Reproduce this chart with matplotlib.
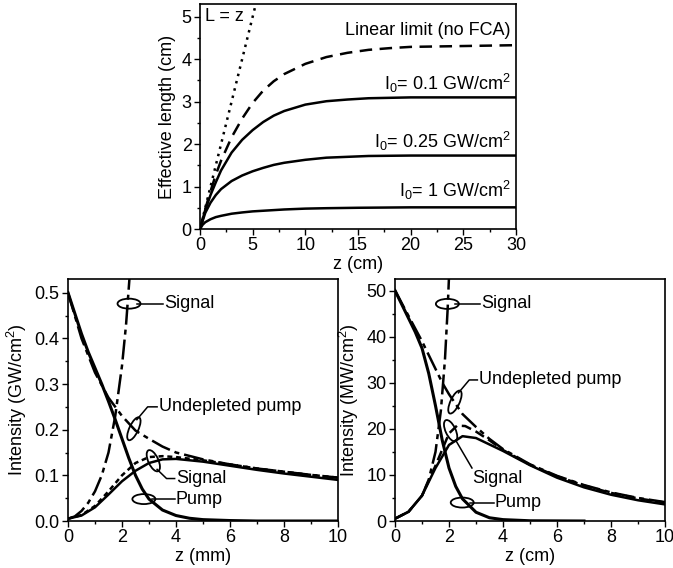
import matplotlib
matplotlib.use("Agg")
import matplotlib.pyplot as plt
from matplotlib.patches import Ellipse
from matplotlib.transforms import Affine2D, ScaledTranslation
from matplotlib.ticker import MultipleLocator, FormatStrFormatter

plt.rcParams['font.family'] = ['Liberation Sans', 'DejaVu Sans']
plt.rcParams['mathtext.default'] = 'regular'
plt.rcParams['font.size'] = 13

# ---------------- Top panel data (z in cm, effective length in cm) ----------------
lz_z = [0, 5.3]
lz_L = [0, 5.3]

lin_z = [0, 0.5, 1, 1.5, 2, 3, 4, 5, 6, 7, 8, 10, 12, 14, 16, 18, 20, 25, 30]
lin_L = [0, 0.47, 0.89, 1.28, 1.61, 2.16, 2.60, 2.97, 3.26, 3.48, 3.65, 3.89, 4.05, 4.15, 4.22, 4.26, 4.29, 4.31, 4.33]

i01_z = [0, 0.5, 1, 1.5, 2, 3, 4, 5, 6, 7, 8, 10, 12, 14, 16, 18, 20, 25, 30]
i01_L = [0, 0.45, 0.8, 1.1, 1.38, 1.8, 2.1, 2.33, 2.52, 2.67, 2.78, 2.93, 3.01, 3.05, 3.08, 3.09, 3.1, 3.1, 3.1]

i025_z = [0, 0.5, 1, 1.5, 2, 3, 4, 5, 6, 7, 8, 10, 12, 14, 16, 20, 30]
i025_L = [0, 0.38, 0.62, 0.8, 0.94, 1.13, 1.26, 1.36, 1.44, 1.51, 1.56, 1.63, 1.68, 1.70, 1.72, 1.73, 1.73]

i1_z = [0, 0.25, 0.5, 1, 1.5, 2, 3, 4, 5, 6, 8, 10, 12, 15, 20, 30]
i1_L = [0, 0.1, 0.16, 0.23, 0.28, 0.31, 0.36, 0.39, 0.415, 0.43, 0.46, 0.48, 0.49, 0.5, 0.51, 0.51]

top_labels = ["L = z", "Linear limit (no FCA)", "I$_0$= 0.1 GW/cm$^2$",
              "I$_0$= 0.25 GW/cm$^2$", "I$_0$= 1 GW/cm$^2$"]

# ---------------- Bottom-left data (z in mm, intensity in GW/cm^2) ----------------
bl_pump_z = [0, 0.25, 0.5, 0.75, 1, 1.25, 1.5, 1.75, 2, 2.25, 2.5, 2.75, 3, 3.5, 4, 4.5, 5, 6, 7, 10]
bl_pump_I = [0.5, 0.455, 0.41, 0.37, 0.335, 0.3, 0.262, 0.222, 0.18, 0.138, 0.1, 0.07, 0.048, 0.024, 0.012, 0.006, 0.003, 0.001, 0, 0]

bl_undep_z = [0, 0.5, 1, 1.5, 2, 2.5, 3, 3.5, 4, 5, 6, 7, 8, 9, 10]
bl_undep_I = [0.5, 0.4, 0.325, 0.27, 0.23, 0.198, 0.18, 0.163, 0.15, 0.135, 0.124, 0.115, 0.108, 0.101, 0.095]

bl_sigund_z = [0, 0.25, 0.5, 0.75, 1, 1.25, 1.5, 1.75, 2, 2.15, 2.3]
bl_sigund_I = [0.005, 0.01, 0.022, 0.04, 0.065, 0.1, 0.15, 0.23, 0.34, 0.43, 0.55]

bl_sig2_z = [0, 0.5, 1, 1.5, 2, 2.5, 3, 3.5, 4, 5, 6, 7, 8, 9, 10]
bl_sig2_I = [0.005, 0.013, 0.033, 0.065, 0.1, 0.127, 0.14, 0.142, 0.14, 0.133, 0.124, 0.115, 0.108, 0.101, 0.095]

bl_sig_z = [0, 0.5, 1, 1.5, 2, 2.5, 3, 3.5, 4, 5, 6, 7, 8, 9, 10]
bl_sig_I = [0.005, 0.012, 0.03, 0.058, 0.087, 0.11, 0.127, 0.135, 0.136, 0.13, 0.121, 0.112, 0.104, 0.097, 0.09]

# ---------------- Bottom-right data (z in cm, intensity in MW/cm^2) ----------------
br_pump_z = [0, 0.25, 0.5, 0.75, 1, 1.25, 1.5, 1.75, 2, 2.25, 2.5, 3, 3.5, 4, 5, 7]
br_pump_I = [50, 47, 44, 41, 37.5, 32, 25, 17.5, 11.5, 7.5, 4.8, 1.9, 0.7, 0.3, 0.05, 0]

br_undep_z = [0, 0.5, 1, 1.5, 1.75, 2, 2.5, 3, 3.5, 4, 5, 6, 7, 8, 9, 10]
br_undep_I = [50, 44.5, 39, 33, 30, 27.5, 23.2, 20.4, 17.8, 15.6, 12.3, 9.8, 7.8, 6.2, 5.0, 4.1]

br_sigund_z = [0, 0.5, 1, 1.25, 1.5, 1.7, 1.85, 1.95, 2.0]
br_sigund_I = [0.5, 2, 5.5, 9, 15, 24, 35, 46, 53]

br_sig2_z = [0, 0.5, 1, 1.5, 2, 2.3, 2.6, 3, 3.5, 4, 5, 6, 7, 8, 9, 10]
br_sig2_I = [0.5, 2, 5.5, 12, 19, 20.7, 20.6, 19.4, 17.5, 15.4, 12.2, 9.7, 7.7, 6.1, 4.9, 4.0]

br_sig_z = [0, 0.5, 1, 1.5, 2, 2.5, 3, 4, 5, 6, 7, 8, 9, 10]
br_sig_I = [0.5, 2, 5.5, 11.5, 16.5, 18.4, 18.0, 15.2, 12.1, 9.4, 7.3, 5.7, 4.5, 3.6]

W, H = 673, 568
fig = plt.figure(figsize=(W / 100, H / 100), dpi=100)

def add_axes(l, r, t, b):
    return fig.add_axes([l / W, 1 - b / H, (r - l) / W, (b - t) / H])

ax_top = add_axes(200, 516, 4, 229)
ax_bl = add_axes(68, 338, 279, 521)
ax_br = add_axes(395, 665, 279, 521)

LW = 1.8
ax_top.plot(lz_z, lz_L, color='black', lw=LW, linestyle=(0, (1, 2)))
ax_top.plot(lin_z, lin_L, color='black', lw=LW, linestyle=(0, (5, 3)))
ax_top.plot(i01_z, i01_L, color='black', lw=LW)
ax_top.plot(i025_z, i025_L, color='black', lw=LW)
ax_top.plot(i1_z, i1_L, color='black', lw=LW)
ax_top.set_xlim(0, 30)
ax_top.set_ylim(0, 5.3)
ax_top.xaxis.set_major_locator(MultipleLocator(5))
ax_top.xaxis.set_minor_locator(MultipleLocator(2.5))
ax_top.yaxis.set_major_locator(MultipleLocator(1))
ax_top.yaxis.set_minor_locator(MultipleLocator(0.5))
ax_top.set_xlabel("z (cm)", labelpad=1)
ax_top.set_ylabel("Effective length (cm)", labelpad=4)
ax_top.text(0.5, 5.0, top_labels[0], ha='left', va='center')
ax_top.text(29.5, 4.68, top_labels[1], ha='right', va='center')
ax_top.text(29.5, 3.42, top_labels[2], ha='right', va='center')
ax_top.text(29.5, 2.06, top_labels[3], ha='right', va='center')
ax_top.text(29.5, 0.9, top_labels[4], ha='right', va='center')


def mark(ax, x, y, w, h, angle=0):
    tr = Affine2D().scale(1.0) + ScaledTranslation(x, y, ax.transData)
    e = Ellipse((0, 0), w, h, angle=angle, fill=False, lw=1.3, edgecolor='black', transform=tr)
    ax.add_artist(e)


def polyline(ax, xs, ys):
    ax.plot(xs, ys, color='black', lw=1.1)

# bottom left
ax_bl.plot(bl_pump_z, bl_pump_I, color='black', lw=2.2)
ax_bl.plot(bl_undep_z, bl_undep_I, color='black', lw=LW, linestyle=(0, (8, 2, 2, 2)))
ax_bl.plot(bl_sigund_z, bl_sigund_I, color='black', lw=LW, linestyle=(0, (8, 2, 2, 2)))
ax_bl.plot(bl_sig2_z, bl_sig2_I, color='black', lw=LW, linestyle=(0, (2, 1.5)))
ax_bl.plot(bl_sig_z, bl_sig_I, color='black', lw=LW)
ax_bl.set_xlim(0, 10)
ax_bl.set_ylim(0, 0.53)
ax_bl.xaxis.set_major_locator(MultipleLocator(2))
ax_bl.xaxis.set_minor_locator(MultipleLocator(1))
ax_bl.yaxis.set_major_locator(MultipleLocator(0.1))
ax_bl.yaxis.set_minor_locator(MultipleLocator(0.05))
ax_bl.yaxis.set_major_formatter(FormatStrFormatter('%.1f'))
ax_bl.set_xlabel("z (mm)", labelpad=1)
ax_bl.set_ylabel("Intensity (GW/cm$^2$)", labelpad=4)

mark(ax_bl, 2.26, 0.476, 23, 10)
polyline(ax_bl, [2.55, 3.5], [0.476, 0.476])
ax_bl.text(3.56, 0.476, "Signal", ha='left', va='center')
mark(ax_bl, 2.44, 0.202, 9, 25, angle=-25)
polyline(ax_bl, [2.55, 2.95, 3.3], [0.222, 0.25, 0.25])
ax_bl.text(3.37, 0.25, "Undepleted pump", ha='left', va='center')
mark(ax_bl, 3.16, 0.132, 10, 23, angle=25)
polyline(ax_bl, [3.3, 3.65, 3.95], [0.113, 0.093, 0.093])
ax_bl.text(3.99, 0.093, "Signal", ha='left', va='center')
mark(ax_bl, 2.81, 0.048, 23, 10)
polyline(ax_bl, [3.1, 3.95], [0.048, 0.048])
ax_bl.text(3.99, 0.048, "Pump", ha='left', va='center')

# bottom right
ax_br.plot(br_pump_z, br_pump_I, color='black', lw=2.2)
ax_br.plot(br_undep_z, br_undep_I, color='black', lw=LW, linestyle=(0, (8, 2, 2, 2)))
ax_br.plot(br_sigund_z, br_sigund_I, color='black', lw=LW, linestyle=(0, (8, 2, 2, 2)))
ax_br.plot(br_sig2_z, br_sig2_I, color='black', lw=LW, linestyle=(0, (4, 2)))
ax_br.plot(br_sig_z, br_sig_I, color='black', lw=LW)
ax_br.set_xlim(0, 10)
ax_br.set_ylim(0, 52.5)
ax_br.xaxis.set_major_locator(MultipleLocator(2))
ax_br.xaxis.set_minor_locator(MultipleLocator(1))
ax_br.yaxis.set_major_locator(MultipleLocator(10))
ax_br.yaxis.set_minor_locator(MultipleLocator(5))
ax_br.set_xlabel("z (cm)", labelpad=1)
ax_br.set_ylabel("Intensity (MW/cm$^2$)", labelpad=4)

mark(ax_br, 1.94, 47.1, 23, 10)
polyline(ax_br, [2.23, 3.15], [47.1, 47.1])
ax_br.text(3.2, 47.1, "Signal", ha='left', va='center')
mark(ax_br, 2.22, 25.8, 9, 25, angle=-25)
polyline(ax_br, [2.35, 2.75, 3.05], [27.8, 30.6, 30.6])
ax_br.text(3.11, 30.6, "Undepleted pump", ha='left', va='center')
mark(ax_br, 2.06, 19.6, 10, 23, angle=25)
polyline(ax_br, [2.25, 2.85], [17.5, 11.5])
ax_br.text(2.86, 9.3, "Signal", ha='left', va='center')
mark(ax_br, 2.49, 4.0, 23, 10)
polyline(ax_br, [2.78, 3.65], [4.0, 4.0])
ax_br.text(3.7, 4.0, "Pump", ha='left', va='center')

for ax in (ax_top, ax_bl, ax_br):
    for s in ax.spines.values():
        s.set_linewidth(1.2)
    ax.tick_params(which='major', direction='out', length=4, width=1.0, pad=2)
    ax.tick_params(which='minor', direction='out', length=2.5, width=1.0)

fig.savefig("out.png", dpi=100)
